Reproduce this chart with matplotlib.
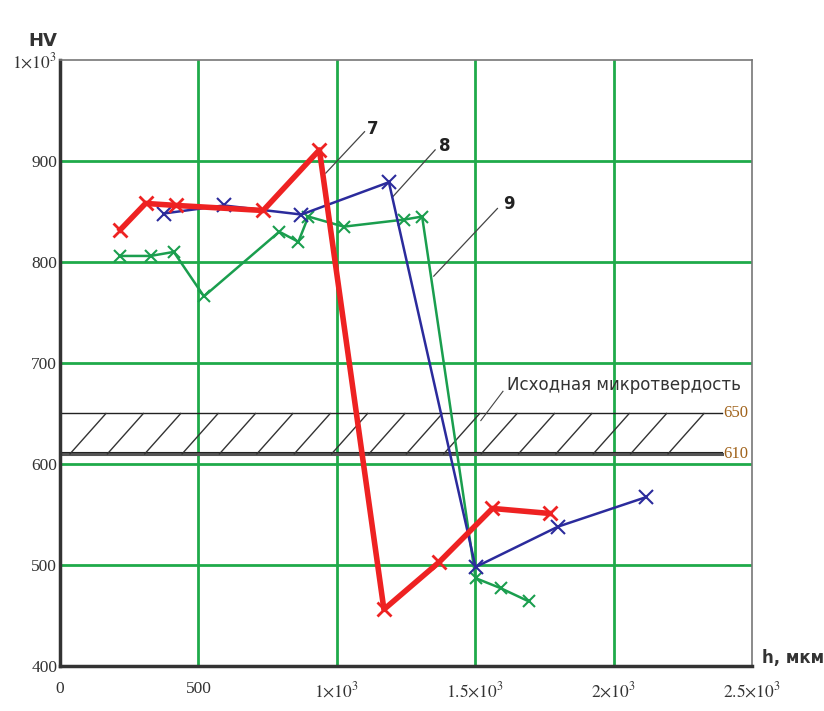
import numpy as np
import matplotlib
matplotlib.use("Agg")
import matplotlib.pyplot as plt

plt.rcParams['mathtext.fontset'] = 'stix'

# curve 7 (red)
x7 = [218, 309, 420, 734, 937, 1170, 1370, 1562, 1770]
y7 = [832, 858, 856, 851, 911, 456, 503, 556, 551]
# curve 8 (blue)
x8 = [374, 592, 872, 1188, 1501, 1799, 2115]
y8 = [848, 856, 847, 879, 498, 538, 567]
# curve 9 (green)
x9 = [218, 327, 411, 520, 792, 861, 897, 1025, 1243, 1308, 1501, 1592, 1693]
y9 = [806, 806, 810, 766, 830, 820, 845, 835, 842, 845, 487, 477, 464]

band_lo, band_hi = 610, 650
xticks = [0, 500, 1000, 1500, 2000, 2500]
xlabels = ['0', '500', r'$1{\times}10^3$', r'$1.5{\times}10^3$', r'$2{\times}10^3$', r'$2.5{\times}10^3$']
yticks = [400, 500, 600, 700, 800, 900, 1000]
ylabels = ['400', '500', '600', '700', '800', '900', r'$1{\times}10^3$']

fig = plt.figure(figsize=(8.24, 7.11), dpi=100)
ax = fig.add_axes([0.0728, 0.0633, 0.84, 0.8523])
ax.set_xlim(0, 2500)
ax.set_ylim(400, 1000)

gcol = '#1faa4a'
for v in [500, 1000, 1500, 2000]:
    ax.axvline(v, color=gcol, lw=2, zorder=1)
for v in [500, 600, 700, 800, 900]:
    ax.axhline(v, color=gcol, lw=2, zorder=1)

# reference band (initial microhardness)
band_end = 2390
ax.plot([0, band_end], [band_hi, band_hi], color='#222222', lw=1, zorder=2)
ax.plot([0, band_end], [band_lo, band_lo], color='#555555', lw=2.2, zorder=2)
ax.plot([0, band_end], [band_lo + 1.5, band_lo + 1.5], color='#222222', lw=0.8, zorder=2)
for xb in np.arange(36, band_end - 100, 135):
    ax.plot([xb, xb + 130], [band_lo, band_hi], color='#333333', lw=1, zorder=2)
ax.text(band_end + 5, band_hi, '650', color='#a0621a', fontsize=12,
        family='Liberation Serif', va='center', ha='left')
ax.text(band_end + 5, band_lo, '610', color='#a0621a', fontsize=12,
        family='Liberation Serif', va='center', ha='left')
ax.text(1615, 678, 'Исходная микротвердость', fontsize=12, color='#333333',
        ha='left', va='center')
ax.plot([1520, 1600], [643, 672], color='#444444', lw=0.8)

ax.plot(x9, y9, color='#1a9e4e', lw=1.8, marker='x', ms=9, mew=1.5, zorder=3)
ax.plot(x8, y8, color='#2b2b9c', lw=1.8, marker='x', ms=10, mew=1.5, zorder=4)
ax.plot(x7, y7, color='#ee2222', lw=4, marker='x', ms=10, mew=2, zorder=5)

# leaders for curve numbers
ax.plot([960, 1100], [888, 929], color='#444444', lw=0.9)
ax.text(1110, 932, '7', fontsize=12, fontweight='bold', color='#222222', va='center')
ax.plot([1200, 1355], [864, 911], color='#444444', lw=0.9)
ax.text(1370, 915, '8', fontsize=12, fontweight='bold', color='#222222', va='center')
ax.plot([1350, 1580], [786, 853], color='#444444', lw=0.9)
ax.text(1600, 857, '9', fontsize=12, fontweight='bold', color='#222222', va='center')

for side in ['left', 'bottom']:
    ax.spines[side].set_linewidth(2.5)
    ax.spines[side].set_color('#333333')
for side in ['top', 'right']:
    ax.spines[side].set_linewidth(1.2)
    ax.spines[side].set_color('#777777')

ax.set_xticks(xticks)
ax.set_xticklabels(xlabels, family='Liberation Serif', fontsize=12.5, color='#333333')
ax.set_yticks(yticks)
ax.set_yticklabels(ylabels, family='Liberation Serif', fontsize=12.5, color='#333333')
ax.tick_params(length=0)
ax.tick_params(axis='x', pad=11)
ax.tick_params(axis='y', pad=2)

fig.text(0.035, 0.943, 'HV', fontsize=13, fontweight='bold', color='#333333', va='center')
fig.text(0.925, 0.075, 'h, мкм', fontsize=12, fontweight='bold', color='#333333', va='center')

fig.savefig('out.png', dpi=100)
